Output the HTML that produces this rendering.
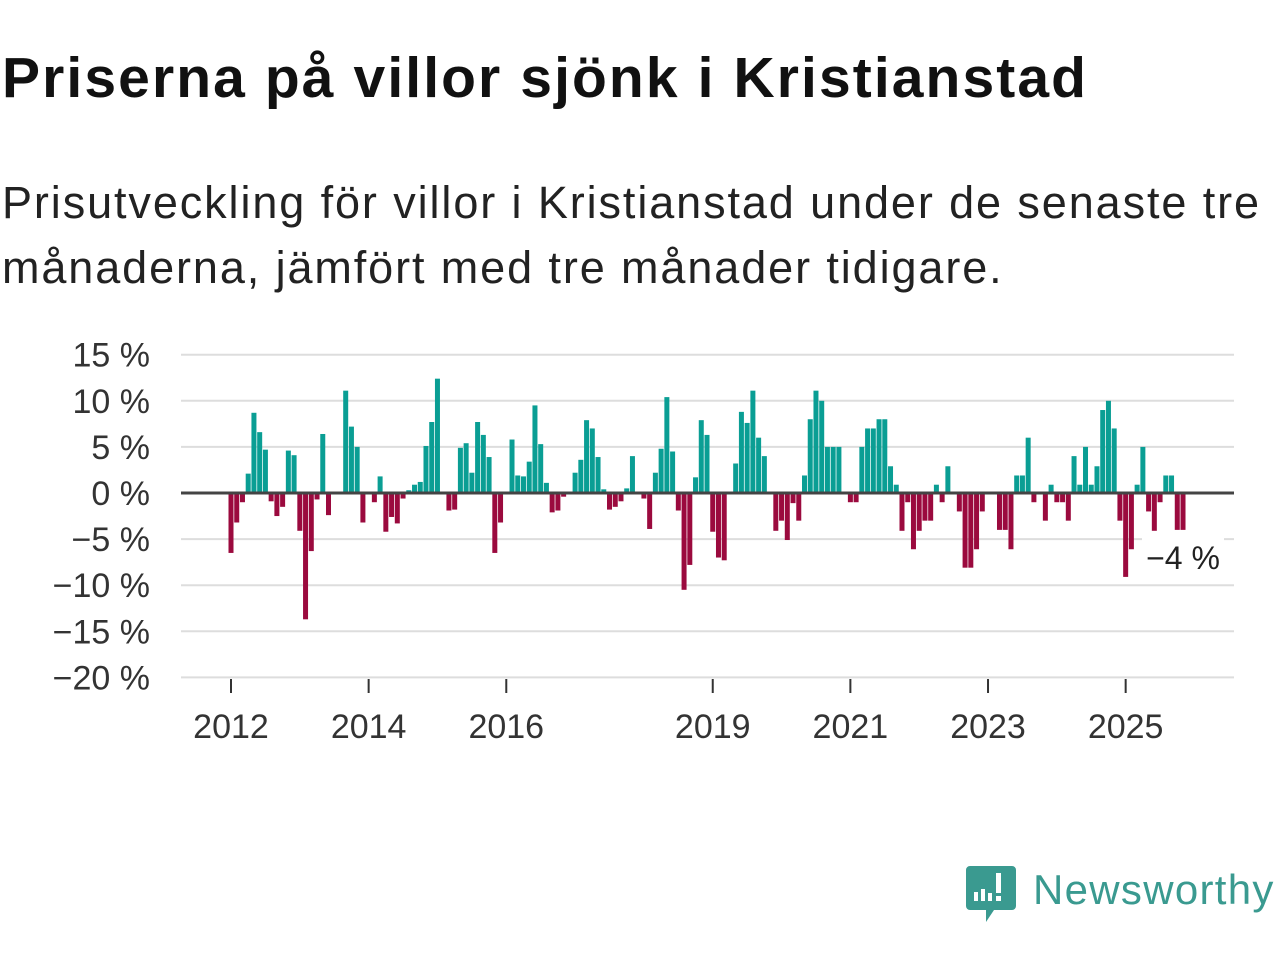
<!DOCTYPE html>
<html><head><meta charset="utf-8"><style>
body{margin:0;width:1280px;height:960px;background:#fff;overflow:hidden;font-family:"Liberation Sans",sans-serif;color:#111}
#title{position:absolute;left:2px;top:45px;font-size:57px;font-weight:bold;letter-spacing:2.1px;white-space:nowrap}
#sub{position:absolute;left:2px;top:170px;font-size:45px;line-height:65px;letter-spacing:1.9px;color:#222;white-space:nowrap}
svg{position:absolute;left:0;top:0}
</style></head><body>
<div id="title">Priserna på villor sjönk i Kristianstad</div>
<div id="sub">Prisutveckling för villor i Kristianstad under de senaste tre<br>månaderna, jämfört med tre månader tidigare.</div>
<svg id="chart" width="1280" height="960">
<g id="logo">
<path d="M970 866 h42 a4 4 0 0 1 4 4 v36 a4 4 0 0 1 -4 4 h-18 l-8 12 v-12 h-16 a4 4 0 0 1 -4 -4 v-36 a4 4 0 0 1 4 -4z" fill="#3a9a90"/>
<rect x="974" y="892" width="4" height="9" fill="#fff"/><rect x="981" y="889" width="4" height="12" fill="#fff"/><rect x="988" y="893" width="4" height="8" fill="#fff"/><rect x="996" y="873" width="5" height="20" fill="#fff"/><rect x="996" y="896" width="5" height="5" fill="#fff"/>
<text x="1033" y="904" font-size="42" letter-spacing="1.3" fill="#3a9a90" font-family="Liberation Sans, sans-serif">Newsworthy</text>
</g>
</svg>
<script>
const values=[-6.5,-3.2,-1,2.1,8.7,6.6,4.7,-0.9,-2.5,-1.5,4.6,4.1,
-4.1,-13.7,-6.3,-0.7,6.4,-2.4,0,0,11.1,7.2,5.0,-3.2,
0,-1,1.8,-4.2,-2.6,-3.3,-0.6,0.3,0.9,1.2,5.1,7.7,
12.4,0,-1.9,-1.8,4.9,5.4,2.2,7.7,6.3,3.9,-6.5,-3.2,
0,5.8,1.9,1.8,3.4,9.5,5.3,1.1,-2.1,-1.9,-0.4,0,
2.2,3.6,7.9,7.0,3.9,0.4,-1.8,-1.5,-0.9,0.5,4.0,0,
-0.6,-3.9,2.2,4.8,10.4,4.5,-1.9,-10.5,-7.8,1.7,7.9,6.3,
-4.2,-7.0,-7.3,0,3.2,8.8,7.6,11.1,6.0,4.0,0,-4.1,
-3.0,-5.1,-1.1,-3.0,1.9,8.0,11.1,10.0,5.0,5.0,5.0,0,
-1.0,-1.0,5.0,7.0,7.0,8.0,8.0,2.9,0.9,-4.1,-1.0,-6.1,
-4.1,-3.0,-3.0,0.9,-1.0,2.9,0,-2.0,-8.1,-8.1,-6.1,-2.0,
0,0,-4.0,-4.0,-6.1,1.9,1.9,6.0,-1.0,0,-3.0,0.9,
-1.0,-1.0,-3.0,4.0,0.9,5.0,0.9,2.9,9.0,10.0,7.0,-3.0,
-9.1,-6.1,0.9,5.0,-2.0,-4.1,-1.0,1.9,1.9,-4.0,-4.0];
const yTicks=[15,10,5,0,-5,-10,-15,-20];
const yearLabels=[2012,2014,2016,2019,2021,2023,2025];
const lastLabel="−4 %";
const NS="http://www.w3.org/2000/svg";
const svg=document.getElementById('chart');
const y=v=>493-v*9.22;
const x=i=>231+i*5.735;
function mk(t,a){const e=document.createElementNS(NS,t);for(const k in a)e.setAttribute(k,a[k]);svg.appendChild(e);return e;}
yTicks.forEach(t=>{
 const g=mk('line',{x1:181,x2:1234,y1:y(t),y2:y(t),stroke:'#ddd','stroke-width':2});
 
 
 const l=mk('text',{x:150,y:y(t)+12,'text-anchor':'end','font-size':34,fill:'#333'});
 l.textContent=(t<0?'−'+(-t):t)+' %';
 
 
});
values.forEach((v,i)=>{
 if(v===0)return;
 const r=mk('rect',{x:x(i)-2.5,y:Math.min(y(v),y(0)),width:5,height:Math.abs(y(v)-y(0)),fill:v>0?'#0a9e94':'#9b0a3e'});
 
 
});
const z=mk('line',{x1:181,x2:1234,y1:y(0),y2:y(0),stroke:'#444','stroke-width':3});


yearLabels.forEach(yr=>{
 const xi=x((yr-2012)*12);
 const tk=mk('line',{x1:xi,x2:xi,y1:679,y2:693,stroke:'#333','stroke-width':2});
 
 
 const t=mk('text',{x:xi,y:738,'text-anchor':'middle','font-size':34,fill:'#333'});
 t.textContent=yr;
 
 
});
const bg=mk('rect',{x:1142,y:537,width:82,height:40,fill:'#fff'});


const lv=mk('text',{x:1183,y:569,'text-anchor':'middle','font-size':32,fill:'#222'});
lv.textContent=lastLabel;


svg.appendChild(document.getElementById('logo'));
</script>
</body></html>
